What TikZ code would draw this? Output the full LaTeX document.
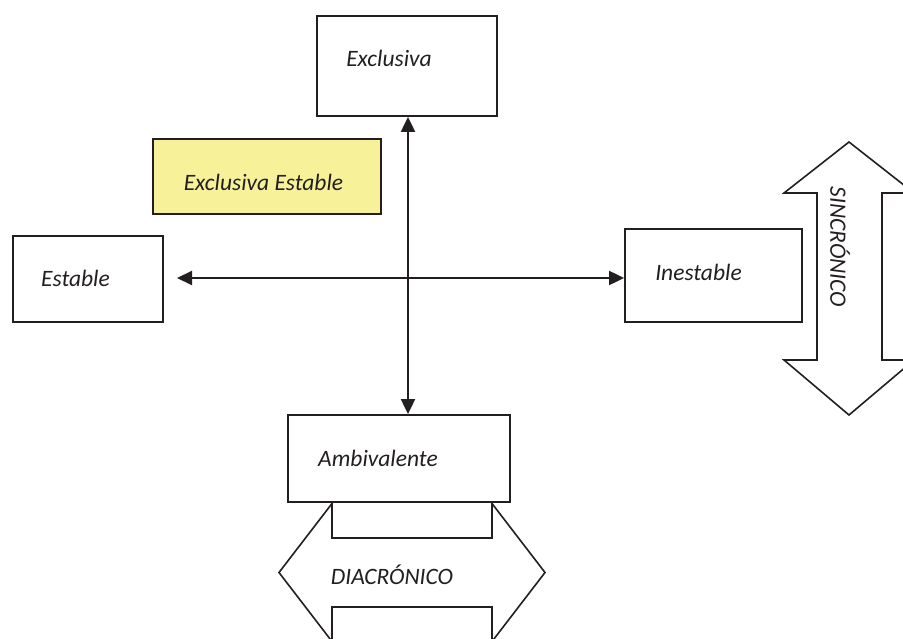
\documentclass[tikz,border=0pt]{standalone}
\usepackage{fontspec}
\setmainfont{Carlito}
\usetikzlibrary{arrows.meta}
\definecolor{ink}{RGB}{35,31,32}
\definecolor{paleyellow}{RGB}{247,242,153}
\begin{document}
\begin{tikzpicture}[x=1pt,y=-1pt,
  every node/.style={font=\fontsize{23.5}{28}\selectfont\itshape, text=ink},
  box/.style={draw=ink, line width=1.8pt, fill=white, inner sep=0pt},
  label/.style={inner sep=0pt},
  bigarrow/.style={draw=ink, line width=1.6pt, fill=white, line join=miter},
  link/.style={draw=ink, line width=2pt, {Triangle[length=15pt,width=14pt]}-{Triangle[length=15pt,width=14pt]}}
]
\useasboundingbox (0,0) rectangle (903,639);

% vertical double block arrow on the right
\path[bigarrow] (849,142) -- (914,193) -- (882,193) -- (882,360) -- (914,360)
  -- (849,415) -- (784,360) -- (817,360) -- (817,193) -- (784,193) -- cycle;
\node[label, rotate=-90] (sinc) at (840,247) {SINCRÓNICO};

% horizontal double block arrow at the bottom
\path[bigarrow] (279,572.5) -- (332,503.5) -- (332,538) -- (492,538) -- (492,503.5)
  -- (545,572.5) -- (492,641.5) -- (492,607) -- (332,607) -- (332,641.5) -- cycle;
\node[label] (diac) at (392,575) {DIACRÓNICO};

% boxes
\node[box, minimum width=180pt, minimum height=100pt] (exc) at (407,66) {};
\node[box, fill=paleyellow, minimum width=228pt, minimum height=75pt] (exst) at (267,176.5) {};
\node[box, minimum width=150pt, minimum height=86pt] (est) at (88,279) {};
\node[box, minimum width=177pt, minimum height=93pt] (ine) at (713.5,275.5) {};
\node[box, minimum width=222pt, minimum height=87pt] (amb) at (399,458.5) {};

% box texts
\node[label] (excT) at (389,58) {Exclusiva};
\node[label] (exstT) at (263.5,182) {Exclusiva Estable};
\node[label] (estT) at (75.5,278) {Estable};
\node[label] (ineT) at (698.5,272) {Inestable};
\node[label] (ambT) at (378,458) {Ambivalente};

% axes
\coordinate (left) at (177,278);
\coordinate (cross) at (408,278);
\draw[link] (left) -- (cross -| ine.west);
\draw[link] (exc.south -| cross) -- (amb.north -| cross);
\end{tikzpicture}
\end{document}
